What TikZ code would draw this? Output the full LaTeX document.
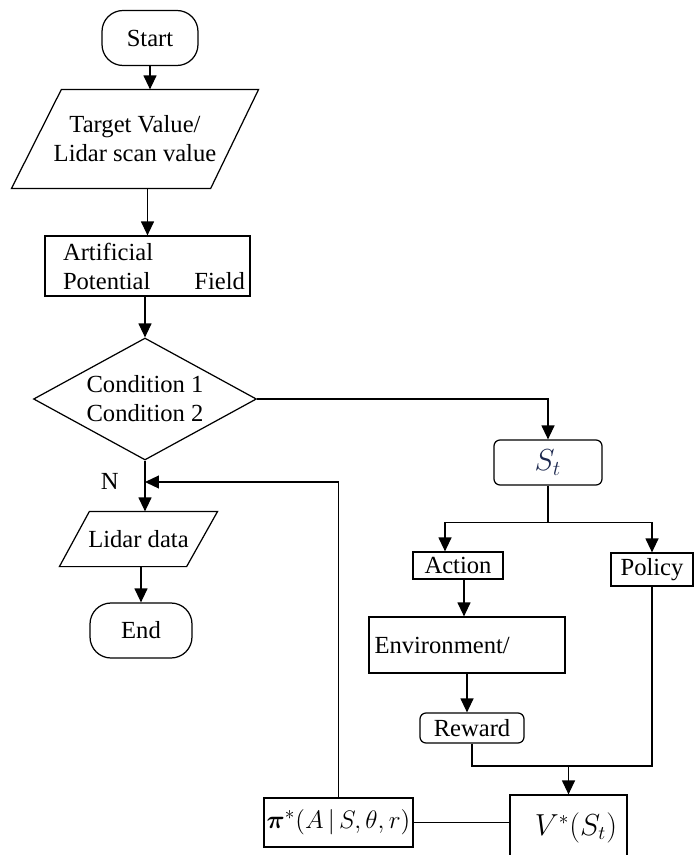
\documentclass[tikz,border=0pt]{standalone}
\usepackage{amsmath}
\usepackage{fontspec}
\setmainfont{Liberation Serif}
\usetikzlibrary{shapes.geometric,arrows.meta}
\definecolor{stblue}{RGB}{28,40,78}
\begin{document}
\begin{tikzpicture}[x=0.02cm,y=-0.02cm,line width=0.7pt,
  font=\fontsize{14}{16.5}\selectfont,
  arr/.style={-{Triangle[length=0.28cm,width=0.26cm]}},
  term/.style={draw,rounded corners=0.42cm,minimum height=1.1cm},
  io/.style={align=center,inner sep=0pt},
  box/.style={draw,inner sep=0pt},
  rbox/.style={draw,rounded corners=0.12cm,inner sep=0pt}]
\useasboundingbox (0,0) rectangle (694,855);
\node[term,minimum width=1.92cm] (start) at (150,38) {Start};
\node[io,minimum width=4.92cm,minimum height=1.96cm] (input) at (135,139) {Target Value/\\Lidar scan value};
\draw ([xshift=1cm]input.north west) -- (input.north east) -- ([xshift=-0.96cm]input.south east) -- (input.south west) -- cycle;
\node[box,text width=3.9cm,inner xsep=0.1cm,minimum height=1.2cm,align=left] (apf) at (147.5,266)
  {\hspace*{0.26cm}Artificial\\\hspace*{0.26cm}Potential\hfill Field};
\node[draw,diamond,aspect=1.83,inner sep=0pt,minimum width=4.46cm,minimum height=2.44cm,align=center] (cond) at (145,399)
  {Condition 1\\Condition 2};
\node[io,minimum width=3.14cm,minimum height=1.08cm] (lidar) at (138.5,539) {Lidar data};
\draw ([xshift=0.6cm]lidar.north west) -- (lidar.north east) -- ([xshift=-0.62cm]lidar.south east) -- (lidar.south west) -- cycle;
\node[term,minimum width=2.04cm] (end) at (141,630.5) {End};
\node[rbox,minimum width=2.16cm,minimum height=0.9cm] (st) at (548,462.5) {\fontsize{17}{18}\selectfont\color{stblue}$S_t$};
\node[box,minimum width=1.8cm,minimum height=0.54cm] (action) at (458,565.5) {Action};
\node[box,minimum width=1.64cm,minimum height=0.66cm] (policy) at (652,569.5) {Policy};
\node[box,minimum width=3.92cm,minimum height=1.12cm,text width=3.7cm,align=left] (env) at (467,645) {Environment/};
\node[rbox,minimum width=2.08cm,minimum height=0.6cm] (reward) at (472,728) {Reward};
\node[box,minimum width=2.34cm,minimum height=1.3cm] (vstar) at (568.5,827.5) {\fontsize{16}{18}\selectfont\hspace*{0.3cm}$V^{*}(S_{t})$};
\node[box,minimum width=2.98cm,minimum height=0.98cm] (pi) at (338.5,822.5) {\fontsize{15}{18}\selectfont$\boldsymbol{\pi}^{*}(A\,|\,S,\theta,r)$};
\draw[arr] (start.south) -- (start.south |- input.north);
\draw[arr] (input.south -| apf.north) -- (apf.north);
\draw[arr] (apf.south -| cond.north) -- (cond.north);
\draw[arr] (cond.east) -| (st.north);
\draw[arr] (cond.south) -- node[pos=0.42,left=0.4cm] (nlabel) {N} (cond.south |- lidar.north);
\draw[arr] (end.north |- lidar.south) -- (end.north);
\draw (st.south) -- ++(0,37) coordinate (split);
\draw[arr] (split) -| ([xshift=-0.26cm]action.north);
\draw[arr] (split) -| (policy.north);
\draw[arr] ([xshift=0.12cm]action.south) -- ([xshift=0.12cm]action.south |- env.north);
\draw[arr] (env.south) -- (env.south |- reward.north);
\coordinate (merge) at (568.5,766);
\draw (reward.south) |- (merge) -| (policy.south);
\draw[arr] (merge) -- (vstar.north);
\draw (vstar.west |- pi.east) -- (pi.east);
\coordinate (back) at (145,482);
\draw[arr] (pi.north) |- (back);
\end{tikzpicture}
\end{document}
